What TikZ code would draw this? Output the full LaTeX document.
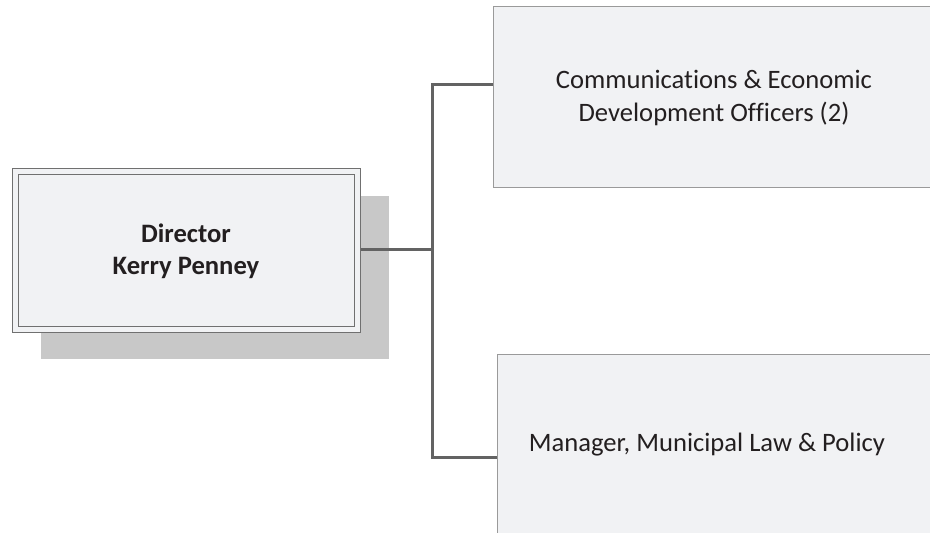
\documentclass[tikz,border=0pt]{standalone}
\usepackage{fontspec}
\setmainfont{Carlito}[Ligatures=NoCommon]
\definecolor{boxfill}{HTML}{F1F2F4}
\definecolor{boxline}{HTML}{9A9A9A}
\definecolor{dirline}{HTML}{707070}
\definecolor{shadowc}{HTML}{C8C8C8}
\definecolor{connc}{HTML}{636363}
\definecolor{txt}{HTML}{231F20}
\tikzset{
  orgbox/.style={draw=boxline, line width=1pt, fill=boxfill, inner sep=0pt, anchor=north west},
  conn/.style={draw=connc, line width=3pt},
  lbl/.style={text=txt, align=center, font=\fontsize{26.6}{33}\selectfont, inner sep=0pt}
}
\begin{document}
\begin{tikzpicture}[x=1pt,y=-1pt]
\useasboundingbox (0,0) rectangle (930,533);
\clip (0,0) rectangle (930,533);
% shadow
\fill[shadowc] (41,196) rectangle (389,359);
% director
\node[orgbox, draw=dirline, minimum width=348pt, minimum height=164pt] (dir) at (12,168) {};
\node[draw=dirline, line width=1pt, inner sep=0pt, minimum width=336pt, minimum height=152pt, anchor=north west] (dirin) at (18,174) {};
\node[lbl, font=\fontsize{26.6}{32}\selectfont\bfseries] (dirtxt) at (186,251) {Director\\Kerry Penney};
% right boxes
\node[orgbox, minimum width=470pt, minimum height=181pt] (top) at (493,6) {};
\node[lbl] (toptxt) at (714,98) {Communications \& Economic\\Development Officers (2)};
\node[orgbox, minimum width=470pt, minimum height=200pt] (bot) at (497,354) {};
\node[lbl] (bottxt) at (707,445) {Manager, Municipal Law \& Policy};
% connectors
\coordinate (j) at (432,249);
\coordinate (ct) at (493,84);
\coordinate (cb) at (497,457);
\draw[conn] (dir.east |- j) -- (j);
\draw[conn, line join=miter] (ct) -- (ct -| j) -- (cb -| j) -- (cb);
\end{tikzpicture}
\end{document}
